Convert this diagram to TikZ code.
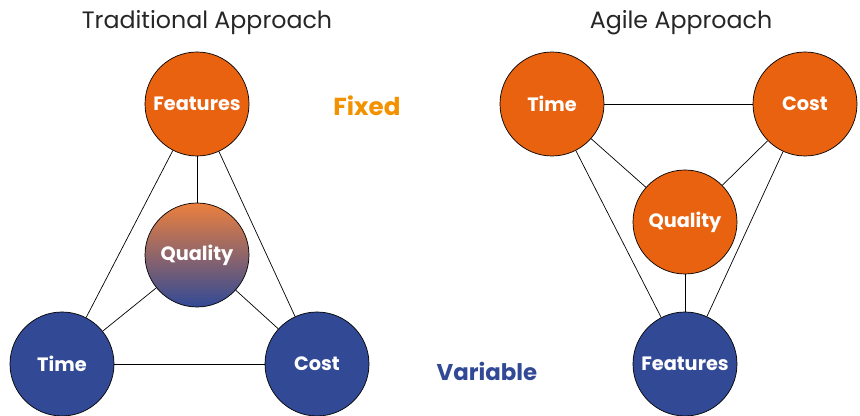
\documentclass[tikz,border=0pt]{standalone}
\usepackage{fontspec}
\setmainfont{Poppins}
\usepackage{tikz}
\usepackage{xcolor}
\definecolor{fixorange}{RGB}{232, 98, 16}
\definecolor{varblue}{RGB}{50, 74, 150}
\definecolor{fixedtext}{RGB}{243, 146, 0}
\definecolor{gradtop}{RGB}{236, 128, 62}

\begin{document}
\begin{tikzpicture}[
    circ/.style={circle, draw, thin, minimum size=2.08cm, text=white, font=\bfseries\fontsize{11}{13}\selectfont},
    fixednode/.style={circ, fill=fixorange},
    varnode/.style={circ, fill=varblue}]
    \useasboundingbox (0,0) rectangle (17.2,8.32);

    % traditional
    \node[text=black!85, font=\fontsize{13.5}{16}\selectfont] (ttitle) at (4.14,7.86) {Traditional Approach};
    \node[fixednode] (tfeat) at (3.94,6.24) {Features};
    \node[circ, top color=gradtop, bottom color=varblue] (tqual) at (3.94,3.22) {Quality};
    \node[varnode] (ttime) at (1.24,1.04) {Time};
    \node[varnode] (tcost) at (6.34,1.04) {Cost};

    \draw (tfeat) -- (tqual);
    \draw (tfeat) -- (ttime);
    \draw (tfeat) -- (tcost);
    \draw (tqual) -- (ttime);
    \draw (tqual) -- (tcost);
    \draw (ttime) -- (tcost);

    % agile
    \node[text=black!85, font=\fontsize{13.5}{16}\selectfont] (atitle) at (13.62,7.86) {Agile Approach};
    \node[fixednode] (atime) at (11.04,6.24) {Time};
    \node[fixednode] (acost) at (16.10,6.24) {Cost};
    \node[fixednode] (aqual) at (13.70,3.88) {Quality};
    \node[varnode] (afeat) at (13.70,1.04) {Features};

    \draw (atime) -- (acost);
    \draw (atime) -- (aqual);
    \draw (acost) -- (aqual);
    \draw (aqual) -- (afeat);
    \draw (atime) -- (afeat);
    \draw (acost) -- (afeat);

    \node[text=fixedtext, font=\bfseries\fontsize{14}{16}\selectfont] (fixed) at (7.34,6.2) {Fixed};
    \node[text=varblue, font=\bfseries\fontsize{13}{15}\selectfont] (variable) at (9.74,0.9) {Variable};
\end{tikzpicture}
\end{document}
